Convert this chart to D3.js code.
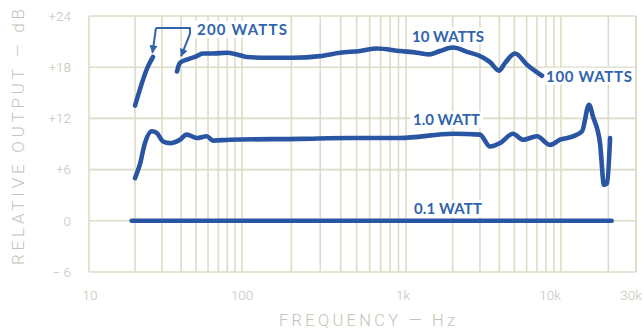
<!DOCTYPE html>
<html>
<head>
<meta charset="utf-8">
<script src="https://cdn.jsdelivr.net/npm/d3@7"></script>
<style>
  html, body { margin: 0; padding: 0; background: #fff; }
  svg { display: block; }
</style>
</head>
<body>
<svg id="chart" width="644" height="331"></svg>
<script>
// Loudspeaker output vs. frequency at several drive levels

// frequency (Hz) / relative output (dB)
const freq200W = [20, 24.3, 26.2];
const db200W   = [13.5, 18.1, 19.2];

const freq10W = [37.6, 39.3, 43.7, 49.3, 55.6, 64.6, 79.8, 92.7, 107, 142, 205, 299, 396, 525, 666, 919,
                 1178, 1428, 1657, 2010, 2475, 3093, 3483, 3981, 4355, 5050, 6035, 7540];
const db10W   = [17.5, 18.5, 18.9, 19.2, 19.6, 19.6, 19.7, 19.5, 19.2, 19.1, 19.1, 19.3, 19.7, 19.9, 20.2, 19.9,
                 19.7, 19.5, 19.9, 20.3, 19.8, 19.2, 18.6, 17.6, 18.5, 19.6, 18.3, 17.0];

const freq1W = [20, 21.5, 23.2, 25.7, 27.7, 30.5, 33.8, 39.3, 43.5, 50.6, 58.8, 64.6, 83, 226, 456, 919,
                2010, 3000, 3483, 4036, 4896, 5686, 7000, 8490, 9860, 11920, 13610, 15080, 15990, 17710,
                18790, 19640, 20520];
const db1W   = [5.0, 6.6, 9.1, 10.5, 10.3, 9.3, 9.1, 9.5, 10.1, 9.7, 9.9, 9.4, 9.5, 9.6, 9.7, 9.7,
                10.2, 10.1, 8.7, 9.1, 10.2, 9.5, 9.9, 8.9, 9.5, 9.9, 10.5, 13.6, 12.2, 9.1,
                4.2, 4.4, 9.7];

const freq01W = [19, 50, 200, 1000, 5000, 21000];
const db01W   = [0, 0, 0, 0, 0, 0];

const dbTicks      = [24, 18, 12, 6, 0, -6];
const dbTickLabels = ["+24", "+18", "+12", "+6", "0", "\u2212 6"];
const freqTicks      = [10, 100, 1000, 10000, 30000];
const freqTickLabels = ["10", "100", "1k", "10k", "30k"];

const seriesLabels = ["200 WATTS", "10 WATTS", "100 WATTS", "1.0 WATT", "0.1 WATT"];

// ---------------------------------------------------------------

const svg = d3.select("#chart");
const gridColor = "#dcdcc7";
const axisTextColor = "#c3c4b5";
const lineColor = "#2a55a2";
const labelColor = "#3064ad";

// hand-ruled log paper: decades are not quite equal in width
const x = d3.scaleLog()
  .domain([10, 100, 1000, 10000, 30000])
  .range([89, 242, 406, 561, 636]);
const y = d3.scaleLinear().domain([-6, 24]).range([272, 16]);

// vertical grid: 1..9 per decade up to 30k
const vGrid = [];
for (const d of [10, 100, 1000, 10000]) {
  for (let m = 1; m <= 9; m++) {
    const f = d * m;
    if (f <= 30000) vGrid.push(f);
  }
}
vGrid.push(30000);

const grid = svg.append("g");
grid.selectAll("line.v").data(vGrid).join("line")
  .attr("x1", d => x(d)).attr("x2", d => x(d))
  .attr("y1", y(24)).attr("y2", y(-6))
  .attr("stroke", gridColor).attr("stroke-width", 1.6);
grid.selectAll("line.h").data(dbTicks).join("line")
  .attr("x1", x(10)).attr("x2", x(30000))
  .attr("y1", d => y(d)).attr("y2", d => y(d))
  .attr("stroke", gridColor).attr("stroke-width", 1.6);

// axis tick labels
const tickFont = "Roboto, 'Liberation Sans', sans-serif";
svg.append("g").selectAll("text").data(dbTicks).join("text")
  .attr("x", 71).attr("y", d => y(d)).attr("dy", "0.36em")
  .attr("text-anchor", "end")
  .attr("font-family", tickFont).attr("font-weight", 300).attr("font-size", 13.5)
  .attr("fill", axisTextColor)
  .text((d, i) => dbTickLabels[i]);

const xLabelShift = [1, 0, -3, -11, -5];
svg.append("g").selectAll("text").data(freqTicks).join("text")
  .attr("x", (d, i) => x(d) + xLabelShift[i]).attr("y", 300)
  .attr("text-anchor", "middle")
  .attr("font-family", tickFont).attr("font-weight", 300).attr("font-size", 13.5)
  .attr("fill", axisTextColor)
  .text((d, i) => freqTickLabels[i]);

// axis titles
svg.append("text")
  .attr("transform", "translate(24,137) rotate(-90)")
  .attr("text-anchor", "middle")
  .attr("font-family", tickFont).attr("font-weight", 300).attr("font-size", 17)
  .attr("fill", axisTextColor)
  .attr("textLength", 256).attr("lengthAdjust", "spacing")
  .text("RELATIVE OUTPUT \u2014 dB");
svg.append("text")
  .attr("x", 367).attr("y", 326)
  .attr("text-anchor", "middle")
  .attr("font-family", tickFont).attr("font-weight", 300).attr("font-size", 16.5)
  .attr("fill", axisTextColor)
  .attr("textLength", 176).attr("lengthAdjust", "spacing")
  .text("FREQUENCY \u2014 Hz");

// series labels on white patches
const labelFont = "Lato, 'Open Sans', sans-serif";
const labelSpots = [
  { f: 50.8,  db: 21.8, w: 90 },  // 200 WATTS
  { f: 1093,  db: 21.0, w: 72 },  // 10 WATTS
  { f: 8000,  db: 16.3, w: 86 },  // 100 WATTS
  { f: 1110,  db: 11.2, w: 67 },  // 1.0 WATT
  { f: 1126,  db: 0.8,  w: 68 }   // 0.1 WATT
];
const lab = svg.append("g");
lab.selectAll("rect").data(labelSpots).join("rect")
  .attr("x", d => x(d.f) - 3).attr("y", d => y(d.db) - 14)
  .attr("width", d => d.w + 6).attr("height", 17)
  .attr("fill", "#fff");

// curves
const line = d3.line()
  .x(d => x(d[0])).y(d => y(d[1]))
  .curve(d3.curveMonotoneX);
const series = [
  d3.zip(freq01W, db01W),
  d3.zip(freq1W, db1W),
  d3.zip(freq10W, db10W),
  d3.zip(freq200W, db200W)
];
svg.append("g").selectAll("path").data(series).join("path")
  .attr("d", line)
  .attr("fill", "none")
  .attr("stroke", lineColor)
  .attr("stroke-width", 4.6)
  .attr("stroke-linecap", "round")
  .attr("stroke-linejoin", "round");

lab.selectAll("text").data(labelSpots).join("text")
  .attr("x", d => x(d.f)).attr("y", d => y(d.db))
  .attr("font-family", labelFont).attr("font-weight", 700).attr("font-size", 15)
  .attr("fill", labelColor)
  .attr("textLength", d => d.w).attr("lengthAdjust", "spacing")
  .text((d, i) => seriesLabels[i]);

// bracket with arrows pointing at the 200 W limits
const defs = svg.append("defs");
defs.append("marker")
  .attr("id", "arrow")
  .attr("viewBox", "0 0 10 10")
  .attr("refX", 9).attr("refY", 5)
  .attr("markerWidth", 11).attr("markerHeight", 8)
  .attr("markerUnits", "userSpaceOnUse")
  .attr("orient", "auto")
  .append("path").attr("d", "M0,0 L10,5 L0,10 Z").attr("fill", labelColor);

const bracket = d3.line().x(d => x(d[0])).y(d => y(d[1]));
svg.append("path")
  .attr("d", bracket([[27.4, 22.6], [45.7, 22.6], [45.7, 21.9], [40.0, 19.3]]))
  .attr("fill", "none")
  .attr("stroke", labelColor)
  .attr("stroke-width", 2)
  .attr("stroke-linejoin", "round")
  .attr("marker-end", "url(#arrow)");
svg.append("path")
  .attr("d", bracket([[27.4, 22.6], [26.0, 19.7]]))
  .attr("fill", "none")
  .attr("stroke", labelColor)
  .attr("stroke-width", 2)
  .attr("marker-end", "url(#arrow)");
</script>
</body>
</html>
